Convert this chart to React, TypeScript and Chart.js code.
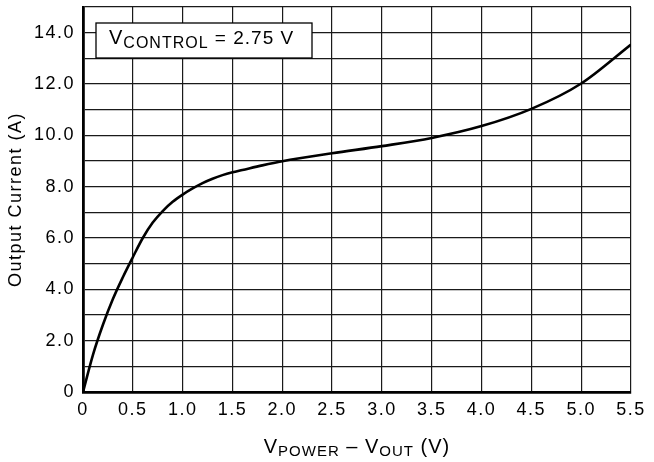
import React, { useEffect, useRef } from 'react';
import { Chart, registerables } from 'chart.js';

Chart.register(...registerables);

// Data
const voltage = [0, 0.1, 0.2, 0.3, 0.4, 0.5, 0.6, 0.7, 0.8, 0.9, 1.0, 1.1, 1.2, 1.3, 1.4, 1.5, 1.6, 1.8, 2.0, 2.5, 3.0, 3.5, 4.0, 4.5, 5.0, 5.5];
const current = [0, 1.45, 2.62, 3.62, 4.47, 5.25, 6.0, 6.6, 7.05, 7.41, 7.69, 7.93, 8.14, 8.31, 8.45, 8.56, 8.65, 8.83, 8.99, 9.3, 9.58, 9.9, 10.36, 11.03, 12.02, 13.54];

const xMin = 0;
const xMax = 5.5;
const xStep = 0.5;
const yMin = 0;
const yMax = 15;
const yStep = 1;

const FONT = '"Liberation Sans", Arial, Helvetica, sans-serif';

type Part = { t: string; size: number; dy: number };
const annotationParts: Part[] = [
  { t: 'V', size: 20, dy: 0 },
  { t: 'CONTROL', size: 16, dy: 4 },
  { t: ' = 2.75 V', size: 19, dy: 0 },
];
const xTitleParts: Part[] = [
  { t: 'V', size: 20, dy: 0 },
  { t: 'POWER', size: 15, dy: 3 },
  { t: ' \u2013 ', size: 20, dy: 0 },
  { t: 'V', size: 20, dy: 0 },
  { t: 'OUT', size: 15, dy: 3 },
  { t: ' (V)', size: 20, dy: 0 },
];
const yTitle = 'Output Current (A)';

function measureParts(ctx: CanvasRenderingContext2D, parts: Part[], ls: number) {
  let w = 0;
  for (const p of parts) {
    ctx.font = `${p.size}px ${FONT}`;
    (ctx as any).letterSpacing = ls + 'px';
    w += ctx.measureText(p.t).width;
  }
  return w;
}

function drawParts(ctx: CanvasRenderingContext2D, parts: Part[], x0: number, baseline: number, ls: number) {
  let x = x0;
  ctx.textAlign = 'left';
  ctx.textBaseline = 'alphabetic';
  for (const p of parts) {
    ctx.font = `${p.size}px ${FONT}`;
    (ctx as any).letterSpacing = ls + 'px';
    ctx.fillText(p.t, x, baseline + p.dy);
    x += ctx.measureText(p.t).width;
  }
}

const spacingPlugin = {
  id: 'spacing',
  beforeLayout(chart: any) {
    chart.ctx.letterSpacing = '1.5px';
  },
  beforeDraw(chart: any) {
    chart.ctx.letterSpacing = '1.5px';
  },
};

const textPlugin = {
  id: 'texts',
  afterDraw(chart: any) {
    const ctx: CanvasRenderingContext2D = chart.ctx;
    const a = chart.chartArea;
    ctx.save();
    ctx.fillStyle = '#000';

    // Annotation box
    const bx = a.left + 13;
    const by = a.top + 16;
    const bw = 216;
    const bh = 35;
    ctx.fillStyle = '#fff';
    ctx.fillRect(bx, by, bw, bh);
    ctx.strokeStyle = '#000';
    ctx.lineWidth = 1.3;
    ctx.strokeRect(bx, by, bw, bh);
    ctx.fillStyle = '#000';
    drawParts(ctx, annotationParts, bx + 13, by + 21, 1);

    // X axis title
    const tw = measureParts(ctx, xTitleParts, 1);
    const cx = (a.left + a.right) / 2;
    drawParts(ctx, xTitleParts, cx - tw / 2, a.bottom + 61, 1);

    // Y axis title
    ctx.save();
    ctx.translate(21, (a.top + a.bottom) / 2);
    ctx.rotate(-Math.PI / 2);
    ctx.font = `18px ${FONT}`;
    (ctx as any).letterSpacing = '1.5px';
    ctx.textAlign = 'center';
    ctx.textBaseline = 'alphabetic';
    ctx.fillText(yTitle, 0, 0);
    ctx.restore();

    ctx.restore();
  },
};

export default function App() {
  const ref = useRef<HTMLCanvasElement | null>(null);

  useEffect(() => {
    if (!ref.current) return;
    const points = voltage.map((v, i) => ({ x: v, y: current[i] }));
    const chart = new Chart(ref.current, {
      type: 'scatter',
      data: {
        datasets: [
          {
            data: points,
            showLine: true,
            borderColor: '#000',
            borderWidth: 2.6,
            pointRadius: 0,
            cubicInterpolationMode: 'monotone',
            fill: false,
          },
        ],
      },
      options: {
        animation: false,
        responsive: false,
        devicePixelRatio: 1,
        layout: { padding: { left: 0, top: 7, right: 23, bottom: 0 } },
        plugins: {
          legend: { display: false },
          tooltip: { enabled: false },
        },
        scales: {
          x: {
            type: 'linear',
            min: xMin,
            max: xMax,
            ticks: {
              stepSize: xStep,
              padding: 7,
              color: '#000',
              font: { family: FONT, size: 18 },
              maxRotation: 0,
              autoSkip: false,
              callback: (v: any) => (Number(v) === 0 ? '0' : Number(v).toFixed(1)),
            },
            grid: { color: '#1a1a1a', lineWidth: 1.2, drawTicks: false },
            border: { display: true, color: '#000', width: 2.8 },
            afterFit: (s: any) => {
              s.height = 70;
              s.paddingLeft = 0;
              s.paddingRight = 0;
            },
          },
          y: {
            type: 'linear',
            min: yMin,
            max: yMax,
            ticks: {
              stepSize: yStep,
              padding: 8,
              color: '#000',
              font: { family: FONT, size: 18 },
              autoSkip: false,
              callback: (v: any) => {
                const n = Number(v);
                if (n % 2 !== 0) return '';
                return n === 0 ? '0' : n.toFixed(1);
              },
            },
            grid: { color: '#1a1a1a', lineWidth: 1.2, drawTicks: false },
            border: { display: true, color: '#000', width: 2.8 },
            afterFit: (s: any) => {
              s.width = 83;
              s.paddingTop = 0;
              s.paddingBottom = 0;
            },
          },
        },
      },
      plugins: [spacingPlugin, textPlugin],
    });
    return () => chart.destroy();
  }, []);

  return (
    <div style={{ position: 'fixed', left: 0, top: 0, width: 654, height: 462, background: '#fff' }}>
      <canvas ref={ref} width={654} height={462} style={{ width: 654, height: 462, display: 'block' }} />
    </div>
  );
}
